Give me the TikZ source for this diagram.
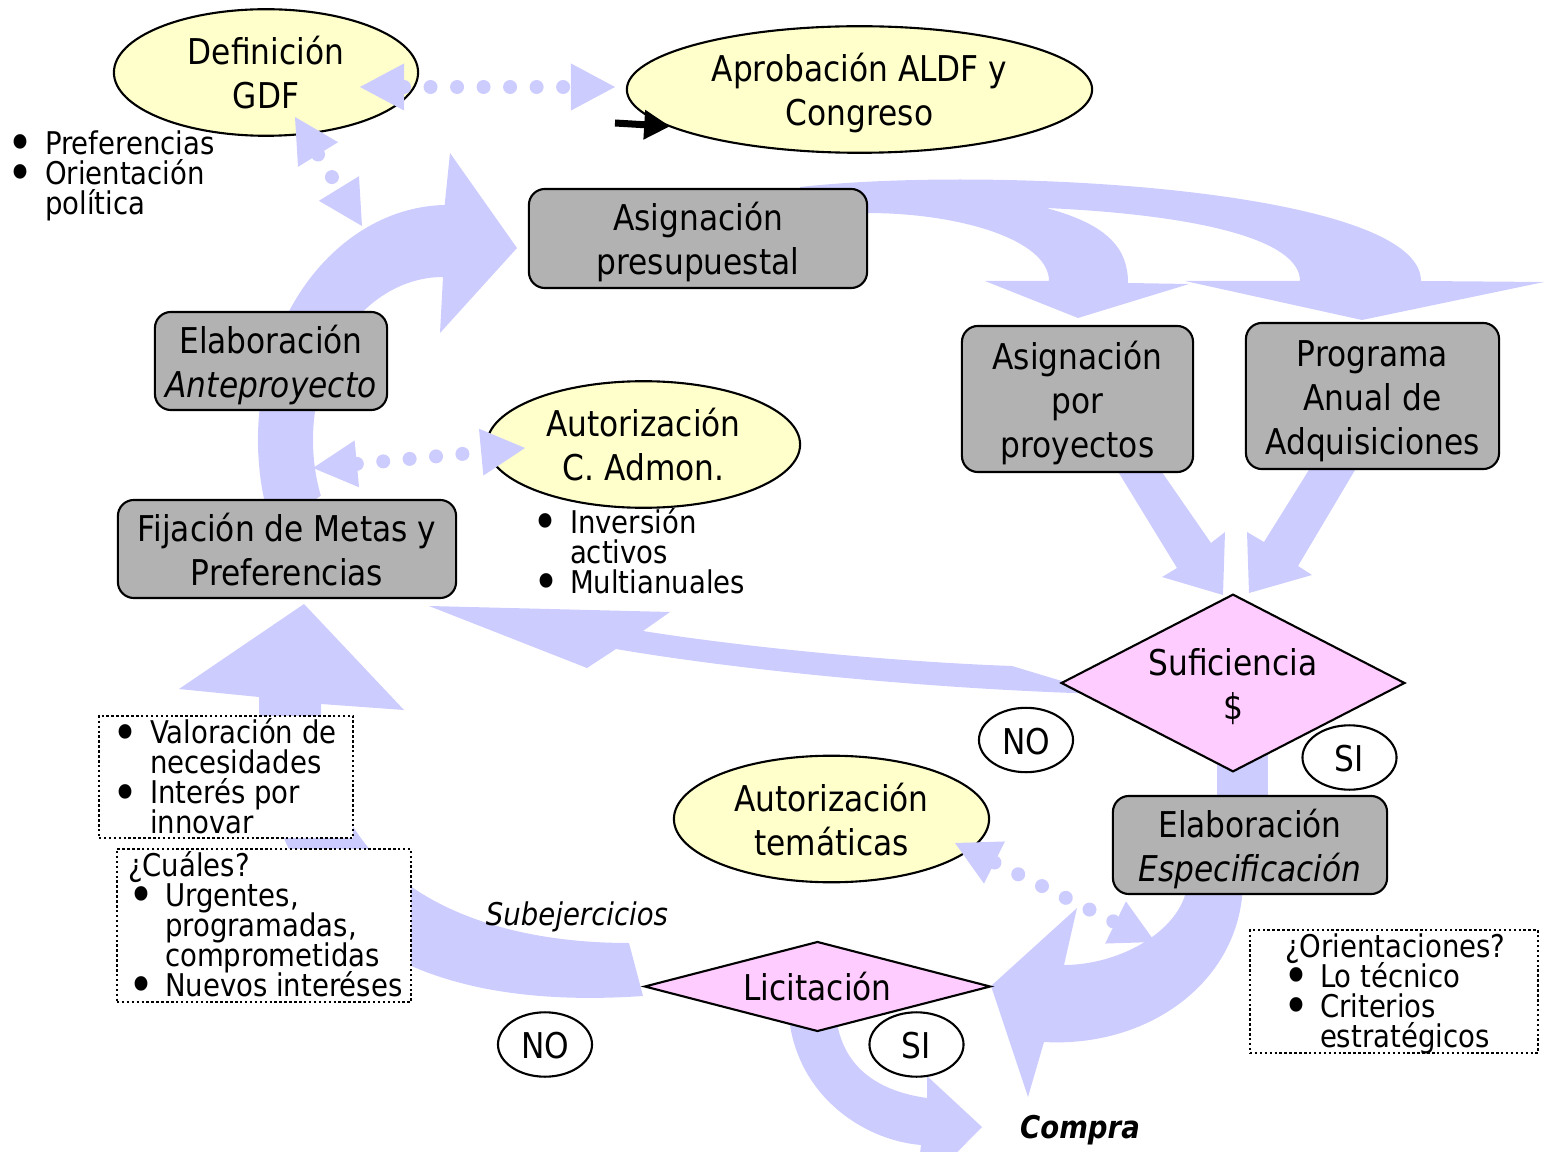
\documentclass[tikz,border=0pt]{standalone}
\usepackage{fontspec}
\usepackage{graphicx}
\setmainfont[FakeStretch=0.88]{DejaVu Sans}
\usetikzlibrary{shapes.geometric,calc,arrows.meta}

\definecolor{lav}{HTML}{CCCCFF}
\definecolor{cream}{HTML}{FFFFCC}
\definecolor{boxgray}{HTML}{B2B2B2}
\definecolor{pinkd}{HTML}{FFCCFF}

\newcommand\bigfnt{\fontsize{10.1pt}{12.5pt}\selectfont\lineskiplimit=-20pt}
\newcommand\smlfnt{\fontsize{8.9pt}{8.5pt}\selectfont\lineskiplimit=-20pt}
\newcommand\itembul{\makebox[0.31cm][l]{\hspace{-0.06cm}\smash{\raisebox{-0.2em}{\scalebox{1.6}{•}}}}}
\newcommand\itemgap{\hspace*{0.31cm}}
% fixed top and bottom struts so every label sits at the same height
\newcommand\tp{\rule{0pt}{10.5pt}}
\newcommand\bt{\rule[-2.45pt]{0pt}{2.45pt}}

% dotted two-headed link between two named coordinates
\newcommand\dotlink[2]{%
  \fill[lav] (#1) -- ($(#1)!0.44cm!(#2)!0.235cm!90:(#2)$) -- ($(#1)!0.44cm!(#2)!0.235cm!-90:(#2)$) -- cycle;
  \fill[lav] (#2) -- ($(#2)!0.44cm!(#1)!0.235cm!90:(#1)$) -- ($(#2)!0.44cm!(#1)!0.235cm!-90:(#1)$) -- cycle;
  \draw[lav, line width=0.14cm, line cap=round, dash pattern=on 0pt off 0.265cm]
    ($(#1)!0.44cm!(#2)$) -- ($(#2)!0.44cm!(#1)$);
}

\tikzset{
  every node/.style={inner sep=0pt, outer sep=0pt},
  ovalnode/.style={ellipse, draw, fill=cream, line width=0.6pt, font=\bigfnt, align=center},
  graybox/.style={rectangle, rounded corners=0.16cm, draw, fill=boxgray, line width=0.6pt, font=\bigfnt, align=center},
  decision/.style={diamond, draw, fill=pinkd, line width=0.6pt, font=\bigfnt, align=center},
  answer/.style={ellipse, draw, fill=white, line width=0.6pt, font=\bigfnt, minimum width=0.94cm, minimum height=0.64cm},
  notebox/.style={draw, line width=0.6pt, dash pattern=on 0.7pt off 0.7pt, fill=white},
  listtext/.style={font=\smlfnt, align=left, anchor=west},
  band/.style={fill=lav},
}

\begin{document}
\begin{tikzpicture}[x=0.01cm, y=-0.01cm]
\useasboundingbox (0,0) rectangle (1545,1152);
\clip (0,0) rectangle (1545,1152);

% ---------- broad flow bands ----------
% cycle arc up to the budget assignment
\fill[band] (271.8,528) arc[start angle=158, end angle=269, x radius=190, y radius=235]
  -- (450,153) -- (517,248) -- (440,333) -- (443,277)
  arc[start angle=270, end angle=160, x radius=130, y radius=163] -- cycle;

% split band to the two allocation boxes
\fill[band] (800,187) .. controls (1000,165) and (1421,190) .. (1421,281)
  -- (1544,282) -- (1362,320) -- (1185,281) -- (1300,281)
  .. controls (1300,240) and (1200,215) .. (1046,208)
  .. controls (1110,225) and (1128,250) .. (1128,283)
  -- (1189,284) -- (1078,318) -- (985,281) -- (1049,281)
  .. controls (1049,240) and (960,213) .. (867,213)
  -- (800,213) -- cycle;

% converging arrows into the sufficiency test
\fill[band] (1114,465) -- (1177,568) -- (1162,577) -- (1223,595) -- (1225,532) -- (1211,543) -- (1157,465) -- cycle;
\fill[band] (1312,465) -- (1264,542) -- (1247,532) -- (1249,593) -- (1312,575) -- (1298,566) -- (1358,465) -- cycle;

% return band (NO) back to goal setting
\fill[band] (1105,694) .. controls (950,690) and (750,672) .. (616,649)
  -- (587,668) -- (429,606) -- (670,612) -- (643,631)
  .. controls (750,648) and (900,662) .. (1012,666) -- cycle;

% sufficiency (SI) down to specification
\fill[band] (1217,740) rectangle (1268,810);

% specification round to the tender
\fill[band] (1188,880) .. controls (1185,930) and (1120,965) .. (1064,965)
  -- (1077,908) -- (991,986) -- (1028,1097) -- (1044,1042)
  .. controls (1150,1048) and (1243,980) .. (1243,880) -- cycle;

% underspending band back to goal setting
\fill[band] (304,604) -- (404,710) -- (321,704)
  .. controls (321,880) and (470,943) .. (629,943)
  -- (643,996) .. controls (440,1010) and (259,950) .. (259,697)
  -- (179,689) -- cycle;

% tender (SI) to purchase
\fill[band] (788,1000) .. controls (788,1090) and (860,1140) .. (921,1145)
  -- (915,1195) -- (982,1127) -- (927,1076) -- (927,1098)
  .. controls (870,1090) and (835,1060) .. (835,1000) -- cycle;

% ---------- nodes ----------
\node[ovalnode, minimum width=3.04cm, minimum height=1.25cm] (def) at (266,72.5) {\tp Definición\\GDF\bt};
\node[ovalnode, minimum width=4.65cm, minimum height=1.25cm] (apr) at (859.5,89.5) {\tp Aprobación ALDF y\\Congreso\bt};
\node[graybox, minimum width=3.38cm, minimum height=0.99cm] (asig) at (698,238.5) {\tp Asignación\\presupuestal\bt};
\node[graybox, minimum width=2.32cm, minimum height=0.98cm] (elab) at (271,361) {\tp Elaboración\\\textit{Anteproyecto}\bt};
\node[ovalnode, minimum width=3.13cm, minimum height=1.25cm] (cadm) at (643.5,444.5) {\tp Autorización\\C. Admon.\bt};
\node[graybox, minimum width=3.38cm, minimum height=0.98cm] (fij) at (287,549) {\tp Fijación de Metas y\\Preferencias\bt};
\node[graybox, minimum width=2.31cm, minimum height=1.46cm] (proy) at (1077.5,399) {\tp Asignación\\por\\proyectos\bt};
\node[graybox, minimum width=2.53cm, minimum height=1.46cm] (paa) at (1372.5,396) {\tp Programa\\Anual de\\Adquisiciones\bt};
\node[decision, aspect=1.94, minimum width=3.42cm, minimum height=1.76cm] (suf) at (1233,683) {\tp Suficiencia\\\$\bt};
\node[answer] (no1) at (1026,740) {\tp NO\bt};
\node[answer] (si1) at (1349.5,757.5) {\tp SI\bt};
\node[graybox, minimum width=2.74cm, minimum height=0.98cm] (esp) at (1250,845) {\tp Elaboración\\\textit{Especificación}\bt};
\node[ovalnode, minimum width=3.15cm, minimum height=1.26cm] (tem) at (831.5,819) {\tp Autorización\\temáticas\bt};
\node[decision, aspect=3.88, minimum width=3.45cm, minimum height=0.89cm] (lic) at (817.5,986.5) {\tp Licitación\bt};
\node[answer] (no2) at (545,1044.5) {\tp NO\bt};
\node[answer] (si2) at (916.5,1044.5) {\tp SI\bt};
\node[font=\smlfnt] (sub) at (577,917) {\textit{Subejercicios}};
\node[font=\smlfnt] (compra) at (1080,1130) {\textbf{\textit{Compra}}};

% bullet notes
\node[listtext] (pol) at (14,176) {\itembul Preferencias\\\itembul Orientación\\\itemgap política};
\node[listtext] (inv) at (539,551) {\itembul Inversión\\\itemgap activos\\\itembul Multianuales};

\node[notebox, minimum width=2.54cm, minimum height=1.22cm] (nb1) at (226,777) {};
\node[listtext] (nb1t) at (119,776.5) {\itembul Valoración de\\\itemgap necesidades\\\itembul Interés por\\\itemgap innovar};

\node[notebox, minimum width=2.94cm, minimum height=1.53cm] (nb2) at (264,925.5) {};
\node[listtext] (nb2t) at (128,924) {¿Cuáles?\\\hspace*{0.06cm}\itembul Urgentes,\\\hspace*{0.06cm}\itemgap programadas,\\\hspace*{0.06cm}\itemgap comprometidas\\\hspace*{0.06cm}\itembul Nuevos interéses};

\node[notebox, minimum width=2.88cm, minimum height=1.23cm] (nb3) at (1394,991.5) {};
\node[listtext] (nb3t) at (1285,994) {¿Orientaciones?\\\hspace*{0.04cm}\itembul Lo técnico\\\hspace*{0.04cm}\itembul Criterios\\\hspace*{0.04cm}\itemgap estratégicos};

% ---------- dotted consultation links ----------
\coordinate (l1a) at (360,87);   \coordinate (l1b) at (615,87);
\coordinate (l2a) at (295,117);  \coordinate (l2b) at (362,226);
\coordinate (l3a) at (313,468);  \coordinate (l3b) at (525,448);
\coordinate (l4a) at (955,843);  \coordinate (l4b) at (1155,942);
\dotlink{l1a}{l1b}
\dotlink{l2a}{l2b}
\dotlink{l3a}{l3b}
\dotlink{l4a}{l4b}

% black entry arrow into the approval
\coordinate (blk) at (615,123);
\draw[line width=0.07cm, -{Triangle[length=0.26cm,width=0.28cm]}] (blk) -- (apr.191);
\end{tikzpicture}
\end{document}
